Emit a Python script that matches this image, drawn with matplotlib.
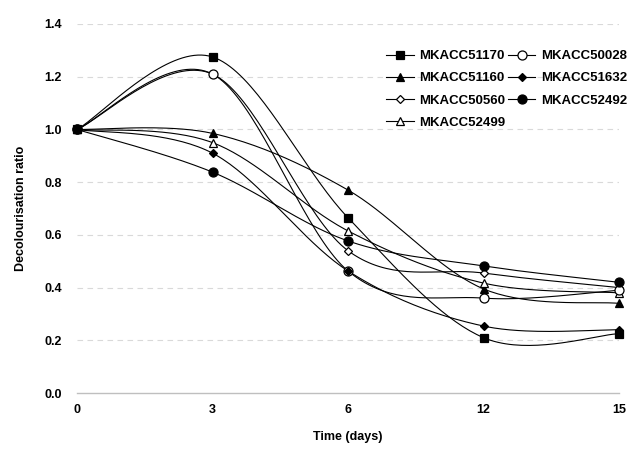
import numpy as np
import matplotlib
matplotlib.use("Agg")
import matplotlib.pyplot as plt
from matplotlib.lines import Line2D

plt.rcParams['font.family'] = ['Liberation Sans', 'DejaVu Sans']

days = ["0", "3", "6", "12", "15"]

mkacc51170 = [1.0, 1.275, 0.665, 0.21, 0.225]
mkacc50028 = [1.0, 1.21, 0.463, 0.36, 0.39]
mkacc51160 = [1.0, 0.985, 0.77, 0.395, 0.34]
mkacc51632 = [1.0, 0.91, 0.463, 0.254, 0.24]
mkacc50560 = [1.0, 1.21, 0.54, 0.455, 0.40]
mkacc52492 = [1.0, 0.838, 0.577, 0.482, 0.42]
mkacc52499 = [1.0, 0.95, 0.615, 0.417, 0.38]

# (label, values, marker, filled, marker size)
series = [
    ("MKACC51170", mkacc51170, "s", True, 5.5),
    ("MKACC51160", mkacc51160, "^", True, 6),
    ("MKACC50560", mkacc50560, "D", False, 4.5),
    ("MKACC52499", mkacc52499, "^", False, 6),
    ("MKACC50028", mkacc50028, "o", False, 6.5),
    ("MKACC51632", mkacc51632, "D", True, 4.5),
    ("MKACC52492", mkacc52492, "o", True, 6.5),
]


def smooth(x, y, n=40):
    # excel-like smoothed line: catmull-rom bezier through the points
    x = np.asarray(x, float)
    y = np.asarray(y, float)
    px = np.concatenate([[x[0]], x, [x[-1]]])
    py = np.concatenate([[y[0]], y, [y[-1]]])
    outx, outy = [], []
    t = np.linspace(0, 1, n)
    for i in range(1, len(px) - 2):
        p0 = np.array([px[i], py[i]])
        p3 = np.array([px[i + 1], py[i + 1]])
        c1 = p0 + (np.array([px[i + 1], py[i + 1]]) - np.array([px[i - 1], py[i - 1]])) / 6
        c2 = p3 - (np.array([px[i + 2], py[i + 2]]) - np.array([px[i], py[i]])) / 6
        b = ((1 - t) ** 3)[:, None] * p0 + (3 * (1 - t) ** 2 * t)[:, None] * c1 \
            + (3 * (1 - t) * t ** 2)[:, None] * c2 + (t ** 3)[:, None] * p3
        outx.extend(b[:, 0])
        outy.extend(b[:, 1])
    return outx, outy


fig = plt.figure(figsize=(6.29, 4.53), dpi=100)
ax = fig.add_axes([77 / 629, 1 - 393 / 453, (619 - 77) / 629, (393 - 24) / 453])

xpos = np.arange(len(days))
handles = []
for label, vals, mk, filled, ms in series:
    sx, sy = smooth(xpos, vals)
    ax.plot(sx, sy, color="black", lw=0.8, clip_on=False, zorder=2)
    fc = "black" if filled else "white"
    ax.plot(xpos, vals, linestyle="none", marker=mk, ms=ms, mfc=fc, mec="black",
            mew=0.9, clip_on=False, zorder=3)
    handles.append(Line2D([], [], color="black", lw=0.8, marker=mk, ms=ms,
                          mfc=fc, mec="black", mew=0.9, label=label))

ax.set_xlim(0, 4)
ax.set_ylim(0, 1.4)
ax.set_xticks(xpos)
ax.set_xticklabels(days)
ax.set_yticks(np.arange(0, 1.41, 0.2))
ax.set_yticklabels(["%.1f" % v for v in np.arange(0, 1.41, 0.2)])
for v in np.arange(0.2, 1.41, 0.2):
    ax.axhline(v, color="#d9d9d9", lw=0.8, ls=(0, (5, 4)), zorder=1)

for s in ["top", "right", "left"]:
    ax.spines[s].set_visible(False)
ax.spines["bottom"].set_color("#bfbfbf")
ax.spines["bottom"].set_linewidth(1.0)
ax.tick_params(length=0, labelsize=9)
ax.tick_params(axis="x", pad=8)
ax.tick_params(axis="y", pad=11)
for lab in ax.get_xticklabels() + ax.get_yticklabels():
    lab.set_fontweight("bold")

ax.set_xlabel("Time (days)", fontsize=9, fontweight="bold", labelpad=11)
ax.set_ylabel("Decolourisation ratio", fontsize=9, fontweight="bold", labelpad=12)

fig.legend(handles=handles, ncol=2, loc="upper left",
           bbox_to_anchor=(386 / 629, 1 - 50 / 453), bbox_transform=fig.transFigure,
           frameon=False, prop={"weight": "bold", "size": 9.5},
           borderpad=0, borderaxespad=0, handlelength=2.1, handletextpad=0.4,
           columnspacing=0.2, labelspacing=0.75)

fig.savefig("out.png", dpi=100)
